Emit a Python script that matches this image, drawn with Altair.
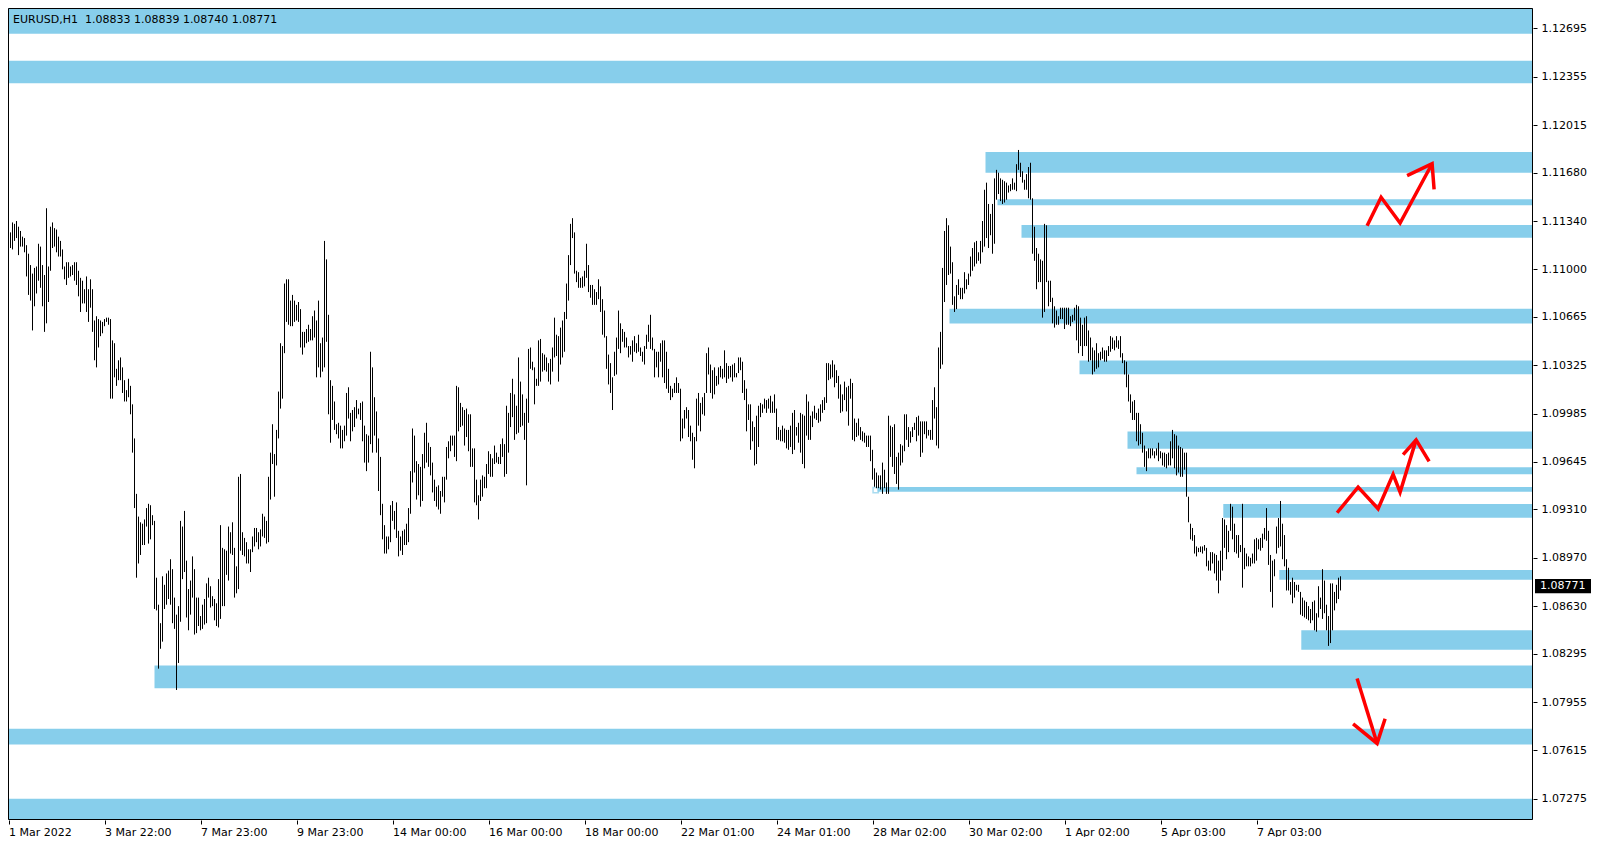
import altair as alt
import pandas as pd

# ---------------- data (EURUSD H1, one value per bar) ----------------
HIGH_1 = [1.1137,1.1126,1.1133,1.1132,1.1134,1.1130,1.1127,1.1123,1.1122,1.1117,
          1.1111,1.1103,1.1097,1.1101,1.1102,1.1118,1.1116,1.1103,1.1096,1.1143,
          1.1102,1.1130,1.1133,1.1129,1.1128,1.1123,1.1120,1.1114,1.1102,1.1105,
          1.1105,1.1102,1.1103,1.1105,1.1105,1.1099,1.1094,1.1092,1.1086,1.1095,
          1.1086,1.1093,1.1086,1.1064,1.1067,1.1065,1.1064,1.1063,1.1065,1.1066,
          1.1066,1.1065,1.1050,1.1048,1.1030,1.1036,1.1038,1.1031,1.1022,1.1015,
          1.1023,1.1018,1.1005,1.0981,1.0942,1.0926,1.0922,1.0921,1.0924,1.0932,
          1.0935,1.0934,1.0927,1.0923,1.0883,1.0864,1.0851,1.0884,1.0878,1.0886,
          1.0888,1.0896,1.0889,1.0869,1.0857,1.0863,1.0923,1.0919,1.0930,1.0895,
          1.0875,1.0881,1.0898,1.0889,1.0869,1.0869,1.0856,1.0864,1.0868,1.0879,
          1.0883,1.0877,1.0870,1.0868,1.0865,1.0882,1.0920,1.0904,1.0903,1.0902,
          1.0919,1.0915,1.0922,1.0904,1.0891,1.0954,1.0956,1.0915,1.0911,1.0908,
          1.0903,1.0903,1.0912,1.0918,1.0918,1.0915,1.0917,1.0928,1.0926,1.0923,
          1.0954,1.0971,1.0991,1.0970]
LOW_1 = [1.1122,1.1115,1.1114,1.1120,1.1122,1.1110,1.1116,1.1116,1.1112,1.1095,
         1.1082,1.1078,1.1057,1.1074,1.1083,1.1092,1.1087,1.1074,1.1056,1.1062,
         1.1077,1.1099,1.1115,1.1116,1.1112,1.1109,1.1109,1.1100,1.1093,1.1089,
         1.1094,1.1095,1.1096,1.1092,1.1089,1.1081,1.1070,1.1076,1.1076,1.1070,
         1.1063,1.1073,1.1056,1.1036,1.1031,1.1045,1.1053,1.1055,1.1060,1.1063,
         1.1061,1.1009,1.1009,1.1024,1.1018,1.1022,1.1022,1.1013,1.1007,1.1007,
         1.1010,1.0998,1.0971,1.0932,1.0883,1.0893,1.0899,1.0906,1.0906,1.0919,
         1.0907,1.0910,1.0920,1.0861,1.0860,1.0819,1.0833,1.0838,1.0861,1.0864,
         1.0868,1.0864,1.0851,1.0847,1.0804,1.0823,1.0852,1.0882,1.0887,1.0855,
         1.0846,1.0857,1.0869,1.0843,1.0844,1.0849,1.0846,1.0847,1.0850,1.0851,
         1.0869,1.0862,1.0863,1.0853,1.0849,1.0848,1.0854,1.0863,1.0863,1.0885,
         1.0881,1.0900,1.0899,1.0869,1.0872,1.0875,1.0902,1.0899,1.0898,1.0893,
         1.0893,1.0887,1.0901,1.0905,1.0908,1.0903,1.0905,1.0912,1.0911,1.0907,
         1.0908,1.0938,1.0963,1.0940]

HIGH_2 = [1.0987,1.1014,1.1048,1.1046,1.1090,1.1093,1.1093,1.1078,1.1082,1.1078,
          1.1075,1.1077,1.1072,1.1056,1.1056,1.1058,1.1061,1.1058,1.1067,1.1071,
          1.1064,1.1078,1.1048,1.1052,1.1120,1.1107,1.1068,1.1022,1.1018,1.1007,
          1.0991,1.0992,1.0990,1.0987,1.0990,1.1013,1.1017,1.0999,1.1001,1.1003,
          1.1008,1.1002,1.1006,1.1007,1.0990,1.0984,1.0983,1.1042,1.1031,1.1010,
          1.1000,1.0981,1.0968,1.0935,1.0920,1.0912,1.0912,1.0934,1.0937,1.0930,
          1.0936,1.0916,1.0912,1.0916,1.0917,1.0921,1.0932,1.0958,1.0988,1.0983,
          1.0965,1.0963,1.0961,1.0970,1.0985,1.0992,1.0978,1.0975,1.0964,1.0952,
          1.0947,1.0948,1.0944,1.0954,1.0954,1.0975,1.0979,1.0983,1.0983,1.0983,
          1.1018,1.1017,1.1006,1.1003,1.1001,1.1002,1.0998,1.0998,1.0974,1.0974,
          1.0952,1.0941,1.0952,1.0955,1.0954,1.0963,1.0972,1.0970,1.0967,1.0976,
          1.0971,1.0968,1.0977,1.0981,1.0977,1.1004,1.0999,1.1013,1.1023,1.1012,
          1.1004,1.1038,1.1021,1.1012,1.0999,1.1009,1.1044,1.1045,1.1035,1.1031,
          1.1023,1.1050]
LOW_2 = [1.0962,1.0981,1.1002,1.1009,1.1041,1.1063,1.1061,1.1060,1.1060,1.1063,
         1.1064,1.1063,1.1045,1.1040,1.1045,1.1048,1.1049,1.1050,1.1050,1.1052,
         1.1024,1.1031,1.1024,1.1028,1.1031,1.1049,1.0998,1.0978,1.0994,1.0987,
         1.0984,1.0981,1.0974,1.0974,1.0979,1.0983,1.0995,1.0979,1.0986,1.0989,
         1.0995,1.0998,1.0994,1.0979,1.0964,1.0958,1.0964,1.0977,1.0971,1.0983,
         1.0971,1.0944,1.0927,1.0910,1.0900,1.0900,1.0903,1.0908,1.0923,1.0917,
         1.0911,1.0898,1.0902,1.0899,1.0906,1.0906,1.0908,1.0928,1.0950,1.0957,
         1.0938,1.0941,1.0933,1.0937,1.0960,1.0964,1.0961,1.0955,1.0943,1.0937,
         1.0933,1.0931,1.0928,1.0940,1.0936,1.0952,1.0967,1.0972,1.0976,1.0968,
         1.0965,1.0986,1.0989,1.0990,1.0976,1.0982,1.0972,1.0961,1.0961,1.0936,
         1.0934,1.0924,1.0937,1.0940,1.0946,1.0946,1.0956,1.0954,1.0954,1.0963,
         1.0964,1.0963,1.0963,1.0968,1.0954,1.0956,1.0971,1.0989,1.0996,1.0980,
         1.0984,1.0985,1.0989,1.0990,1.0980,1.0948,1.0992,1.1030,1.1029,1.1005,
         1.1018,1.1018]

HIGH_3 = [1.1051,1.1041,1.1040,1.1038,1.1034,1.1037,1.1045,1.1066,1.1054,1.1053,
          1.1059,1.1064,1.1070,1.1090,1.1110,1.1132,1.1136,1.1126,1.1099,1.1098,
          1.1094,1.1095,1.1099,1.1118,1.1103,1.1089,1.1089,1.1086,1.1084,1.1093,
          1.1088,1.1079,1.1071,1.1053,1.1040,1.1034,1.1024,1.1042,1.1052,1.1071,
          1.1062,1.1058,1.1056,1.1052,1.1046,1.1046,1.1050,1.1053,1.1048,1.1054,
          1.1045,1.1042,1.1046,1.1054,1.1061,1.1068,1.1052,1.1044,1.1042,1.1042,
          1.1048,1.1050,1.1050,1.1042,1.1030,1.1018,1.1016,1.1020,1.1024,1.1020,
          1.1016,1.0995,1.1001,1.1003,1.1001,1.0990,1.0985,1.0982,1.1009,1.1013,
          1.1006,1.1010,1.1013,1.1041,1.1045,1.1033,1.1029,1.1031,1.1025,1.1031,
          1.1032,1.1030,1.1043,1.1034,1.1032,1.1032,1.1033,1.1034,1.1027,1.1038,
          1.1038,1.1035,1.1022,1.1016,1.1005,1.1005,1.0993,1.0989,1.0997,1.1004,
          1.1006,1.1005,1.1009,1.1008,1.1009,1.1011,1.1007,1.1012,1.1002,1.0989,
          1.0987,1.0990,1.0988,1.0987,1.0987,1.0990,1.0999,1.1001,1.0989,1.0992,
          1.0999,1.0998,1.0997]
LOW_3 = [1.1021,1.1028,1.1029,1.1028,1.1021,1.1019,1.1028,1.1038,1.1039,1.1021,
         1.1033,1.1038,1.1042,1.1065,1.1078,1.1103,1.1122,1.1097,1.1091,1.1087,
         1.1087,1.1087,1.1088,1.1094,1.1084,1.1080,1.1075,1.1075,1.1075,1.1079,
         1.1070,1.1054,1.1052,1.1030,1.1019,1.1013,1.1001,1.1025,1.1026,1.1044,
         1.1041,1.1049,1.1045,1.1045,1.1038,1.1040,1.1035,1.1042,1.1041,1.1042,
         1.1039,1.1035,1.1033,1.1044,1.1049,1.1044,1.1043,1.1024,1.1031,1.1024,
         1.1035,1.1024,1.1020,1.1016,1.1013,1.1008,1.1010,1.1013,1.1013,1.1013,
         1.0979,1.0981,1.0988,1.0995,1.0982,1.0979,1.0966,1.0960,1.0979,1.0990,
         1.0986,1.0998,1.0997,1.1013,1.1026,1.1013,1.1009,1.1012,1.1018,1.1019,
         1.1024,1.1023,1.1024,1.1020,1.1023,1.1024,1.1021,1.1024,1.1024,1.1027,
         1.1029,1.1013,1.1008,1.0986,1.0994,1.0973,1.0979,1.0962,1.0963,1.0975,
         1.0996,1.0999,1.1002,1.0999,1.1002,1.0999,1.0999,1.0999,1.0980,1.0980,
         1.0979,1.0979,1.0978,1.0974,1.0973,1.0975,1.0970,1.0973,1.0983,1.0978,
         1.0971,1.0963,1.0960]

HIGH_4 = [1.1012,1.1007,1.0997,1.1000,1.1004,1.0999,1.1002,1.1005,1.1008,1.1010,
          1.1034,1.1034,1.1033,1.1036,1.1033,1.1029,1.1025,1.1019,1.1012,1.1021,
          1.1017,1.1018,1.1023,1.1020,1.0995,1.0992,1.0995,1.0989,1.0986,1.0985,
          1.0983,1.0983,1.0983,1.0973,1.0960,1.0957,1.0955,1.0955,1.0964,1.0959,
          1.0950,1.0997,1.0990,1.0989,1.0991,1.0968,1.0971,1.0977,1.0976,1.0998,
          1.0998,1.0989,1.0986,1.0989,1.0992,1.0996,1.0997,1.0993,1.0993,1.0993,
          1.0993,1.0987,1.0987,1.1008,1.1017,1.1003,1.1045,1.1056,1.1101,1.1127,
          1.1136,1.1131,1.1116,1.1105,1.1081,1.1089,1.1093,1.1087,1.1087,1.1098,
          1.1093,1.1097,1.1109,1.1115,1.1119,1.1120,1.1112,1.1120,1.1134,1.1156,
          1.1161,1.1146,1.1139,1.1146,1.1164,1.1170,1.1168,1.1164,1.1163,1.1162,
          1.1161,1.1159,1.1160,1.1164,1.1161,1.1174,1.1184,1.1175,1.1169,1.1163,
          1.1167,1.1172,1.1175,1.1150,1.1130,1.1115,1.1111,1.1107,1.1106,1.1132,
          1.1131,1.1092,1.1092,1.1080,1.1074,1.1071,1.1067,1.1073,1.1073,1.1073,
          1.1073,1.1073]
LOW_4 = [1.0983,1.0980,1.0980,1.0989,1.0995,1.0994,1.0992,1.0993,1.0999,1.1001,
         1.1006,1.1022,1.1023,1.1024,1.1017,1.1020,1.1009,1.0999,1.1000,1.1008,
         1.1000,1.0990,1.1009,1.0980,1.0979,1.0982,1.0983,1.0980,1.0979,1.0978,
         1.0975,1.0975,1.0965,1.0952,1.0947,1.0946,1.0946,1.0945,1.0942,1.0946,
         1.0942,1.0942,1.0968,1.0961,1.0956,1.0949,1.0945,1.0962,1.0964,1.0972,
         1.0980,1.0975,1.0978,1.0982,1.0987,1.0979,1.0983,1.0968,1.0971,1.0984,
         1.0981,1.0983,1.0980,1.0980,1.0995,1.0976,1.0974,1.1030,1.1033,1.1077,
         1.1089,1.1096,1.1097,1.1075,1.1070,1.1072,1.1082,1.1079,1.1079,1.1083,
         1.1086,1.1089,1.1095,1.1099,1.1102,1.1104,1.1106,1.1104,1.1112,1.1116,
         1.1122,1.1115,1.1124,1.1111,1.1118,1.1149,1.1153,1.1148,1.1146,1.1147,
         1.1149,1.1154,1.1155,1.1156,1.1156,1.1155,1.1170,1.1165,1.1161,1.1156,
         1.1156,1.1150,1.1149,1.1111,1.1106,1.1086,1.1091,1.1091,1.1066,1.1070,
         1.1091,1.1074,1.1077,1.1062,1.1059,1.1061,1.1061,1.1065,1.1065,1.1058,
         1.1061,1.1061]

HIGH_5 = [1.1067,1.1068,1.1073,1.1075,1.1074,1.1066,1.1061,1.1066,1.1067,1.1057,
          1.1052,1.1045,1.1043,1.1048,1.1041,1.1042,1.1045,1.1043,1.1043,1.1046,
          1.1053,1.1052,1.1050,1.1053,1.1050,1.1053,1.1041,1.1036,1.1035,1.1026,
          1.1012,1.1007,1.1008,1.0999,1.0999,1.0991,1.0985,1.0976,1.0972,1.0974,
          1.0974,1.0974,1.0972,1.0974,1.0978,1.0972,1.0971,1.0971,1.0970,1.0971,
          1.0979,1.0987,1.0984,1.0983,1.0976,1.0975,1.0974,1.0971,1.0971,1.0940,
          1.0921,1.0918,1.0913,1.0905,1.0904,1.0905,1.0905,1.0906,1.0904,1.0895,
          1.0901,1.0901,1.0900,1.0899,1.0895,1.0902,1.0925,1.0924,1.0920,1.0916,
          1.0935,1.0933,1.0921,1.0913,1.0913,1.0906,1.0935,1.0904,1.0900,1.0898,
          1.0897,1.0900,1.0910,1.0911,1.0910,1.0911,1.0914,1.0918,1.0932,1.0916,
          1.0899,1.0895,1.0896,1.0919,1.0925,1.0937,1.0921,1.0913,1.0896,1.0890,
          1.0880,1.0883,1.0880,1.0878,1.0878,1.0873,1.0869,1.0867,1.0866,1.0863,
          1.0861,1.0866,1.0867,1.0858,1.0877,1.0869,1.0889,1.0881,1.0864,1.0856,
          1.0879,1.0879,1.0873,1.0878,1.0883,1.0884]
LOW_5 = [1.1060,1.1063,1.1064,1.1050,1.1041,1.1046,1.1039,1.1046,1.1046,1.1035,
         1.1036,1.1026,1.1028,1.1030,1.1031,1.1036,1.1037,1.1035,1.1035,1.1039,
         1.1042,1.1044,1.1043,1.1045,1.1044,1.1038,1.1034,1.1026,1.1017,1.1007,
         1.0999,1.0994,1.0994,1.0979,1.0976,1.0977,1.0971,1.0961,1.0958,1.0967,
         1.0967,1.0969,1.0967,1.0969,1.0965,1.0967,1.0962,1.0961,1.0960,1.0962,
         1.0962,1.0967,1.0960,1.0955,1.0957,1.0954,1.0954,1.0959,1.0940,1.0922,
         1.0910,1.0909,1.0900,1.0898,1.0901,1.0901,1.0900,1.0902,1.0891,1.0888,
         1.0888,1.0893,1.0886,1.0881,1.0872,1.0881,1.0888,1.0904,1.0896,1.0901,
         1.0916,1.0910,1.0901,1.0900,1.0897,1.0901,1.0876,1.0889,1.0891,1.0891,
         1.0891,1.0893,1.0893,1.0895,1.0903,1.0902,1.0904,1.0910,1.0909,1.0892,
         1.0873,1.0862,1.0884,1.0900,1.0904,1.0905,1.0896,1.0891,1.0874,1.0874,
         1.0871,1.0865,1.0869,1.0874,1.0873,1.0857,1.0856,1.0855,1.0854,1.0853,
         1.0851,1.0853,1.0846,1.0845,1.0855,1.0861,1.0854,1.0858,1.0846,1.0835,
         1.0837,1.0846,1.0860,1.0865,1.0868,1.0874]

# x-axis: one label every 48 bars
TICK_LABELS = ["1 Mar 2022", "3 Mar 22:00", "7 Mar 23:00", "9 Mar 23:00", "14 Mar 00:00",
               "16 Mar 00:00", "18 Mar 00:00", "22 Mar 01:00", "24 Mar 01:00", "28 Mar 02:00",
               "30 Mar 02:00", "1 Apr 02:00", "5 Apr 03:00", "7 Apr 03:00"]
BARS_PER_LABEL = 48

Y_TICKS = [1.12695, 1.12355, 1.12015, 1.11680, 1.11340, 1.11000, 1.10665, 1.10325, 1.09985,
           1.09645, 1.09310, 1.08970, 1.08630, 1.08295, 1.07955, 1.07615, 1.07275]

X_MIN, X_MAX = -0.25, 762.25
Y_MIN, Y_MAX = 1.07125, 1.12839

# supply / demand zones: start bar, top price, bottom price (all extend to the right edge)
ZONE_START = [X_MIN, X_MIN, 488.5, 494.5, 506.5, 470.5, 535.5, 559.5, 564.0, 434.5,
              607.4, 635.4, 646.4, 73.0, X_MIN, X_MIN]
ZONE_TOP = [1.1295, 1.12467, 1.11826, 1.11493, 1.11312, 1.10723, 1.10359, 1.09858, 1.09607,
            1.09468, 1.09349, 1.08885, 1.08461, 1.08212, 1.07768, 1.07275]
ZONE_BOTTOM = [1.12658, 1.12309, 1.11680, 1.11451, 1.11222, 1.10619, 1.10262, 1.09738, 1.09558,
               1.09435, 1.09252, 1.08815, 1.08323, 1.08052, 1.07657, 1.0700]

MARKER_BAR, MARKER_PRICE = 433.6, 1.09447

# red hand-drawn arrows (bar index, price)
ARROW_A_X = [679.3, 686.3, 695.8, 711.8]
ARROW_A_P = [1.11306, 1.11507, 1.11326, 1.11743]
ARROW_A_HEAD_X = [699.3, 711.8, 712.8]
ARROW_A_HEAD_P = [1.11659, 1.11743, 1.11562]
ARROW_B_X = [664.3, 674.8, 684.8, 692.3, 695.8, 703.8]
ARROW_B_P = [1.09287, 1.09467, 1.09315, 1.09557, 1.09432, 1.09800]
ARROW_B_HEAD_X = [697.3, 703.8, 710.3]
ARROW_B_HEAD_P = [1.09696, 1.09800, 1.09648]
ARROW_C_X = [674.3, 684.3]
ARROW_C_P = [1.08121, 1.07664]
ARROW_C_HEAD_X = [672.3, 684.3, 688.3]
ARROW_C_HEAD_P = [1.07802, 1.07664, 1.07837]

SYMBOL = "EURUSD,H1"
HEADER_OHLC = ["1.08833", "1.08839", "1.08740", "1.08771"]
LAST_PRICE = 1.08771

# ---------------- build tables ----------------
HIGHS = HIGH_1 + HIGH_2 + HIGH_3 + HIGH_4 + HIGH_5
LOWS = LOW_1 + LOW_2 + LOW_3 + LOW_4 + LOW_5
for h, l in [(HIGH_1, LOW_1), (HIGH_2, LOW_2), (HIGH_3, LOW_3), (HIGH_4, LOW_4), (HIGH_5, LOW_5)]:
    assert len(h) == len(l), (len(h), len(l))

bars = pd.DataFrame({"i": list(range(len(HIGHS))), "high": HIGHS, "low": LOWS})
zones = pd.DataFrame({"x0": ZONE_START, "x1": [X_MAX] * len(ZONE_START),
                      "top": ZONE_TOP, "bottom": ZONE_BOTTOM})

arrow_rows = []
for name, xs_, ps in [("A", ARROW_A_X, ARROW_A_P), ("AH", ARROW_A_HEAD_X, ARROW_A_HEAD_P),
                      ("B", ARROW_B_X, ARROW_B_P), ("BH", ARROW_B_HEAD_X, ARROW_B_HEAD_P),
                      ("C", ARROW_C_X, ARROW_C_P), ("CH", ARROW_C_HEAD_X, ARROW_C_HEAD_P)]:
    for k, (x, p) in enumerate(zip(xs_, ps)):
        arrow_rows.append({"seg": name, "k": k, "x": x, "p": p})
arrows = pd.DataFrame(arrow_rows)

W, H = 1525, 812
FONT = "DejaVu Sans"

label_expr = "[" + ",".join("'%s'" % s for s in TICK_LABELS) + "][round(datum.value / %d)]" % BARS_PER_LABEL
x_axis = alt.Axis(values=[k * BARS_PER_LABEL for k in range(len(TICK_LABELS))], labelExpr=label_expr,
                  title=None, grid=False, domain=False, tickSize=4, tickColor="black",
                  labelAlign="left", labelFlush=False, labelOverlap=False, labelPadding=2,
                  labelFont=FONT, labelFontSize=11, labelColor="black")
y_axis = alt.Axis(orient="right", values=Y_TICKS, format=".5f", title=None, grid=False, domain=False,
                  tickSize=4, tickColor="black", labelPadding=4,
                  labelFont=FONT, labelFontSize=11, labelColor="black",
                  labelOverlap=False, labelFlush=False)
xs = alt.Scale(domain=[X_MIN, X_MAX], nice=False, zero=False)
ys = alt.Scale(domain=[Y_MIN, Y_MAX], nice=False, zero=False)


def X(field):
    return alt.X(field, type="quantitative", scale=xs, axis=x_axis)


def Y(field):
    return alt.Y(field, type="quantitative", scale=ys, axis=y_axis)


zone_layer = alt.Chart(zones).mark_rect(color="#87CEEB", clip=True).encode(
    x=X("x0"), x2="x1", y=Y("top"), y2="bottom")

marker = alt.Chart(pd.DataFrame({"x": [MARKER_BAR], "p": [MARKER_PRICE]})).mark_square(
    size=28, filled=False, color="#87CEEB", strokeWidth=1.5).encode(x=X("x"), y=Y("p"))

bar_layer = alt.Chart(bars).mark_rule(color="black", strokeWidth=1).encode(
    x=X("i"), y=Y("high"), y2="low")

arrow_layer = alt.Chart(arrows).mark_line(color="#FF0000", strokeWidth=3.5, strokeJoin="miter",
                                          strokeCap="butt").encode(
    x=X("x"), y=Y("p"), detail="seg:N", order="k:Q")

header = alt.Chart(pd.DataFrame({"t": [SYMBOL + "\u00a0 " + " ".join(HEADER_OHLC)]})).mark_text(
    align="left", baseline="middle", font=FONT, fontSize=11, color="black").encode(
    x=alt.value(5), y=alt.value(12), text="t:N")

frame = alt.Chart(pd.DataFrame({"k": [0]})).mark_rect(
    fillOpacity=0, stroke="black", strokeWidth=1).encode(
    x=alt.value(0.5), x2=alt.value(W - 0.5), y=alt.value(0.5), y2=alt.value(H - 0.5))

price_df = pd.DataFrame({"p": [LAST_PRICE], "t": ["%.5f" % LAST_PRICE]})
price_box = alt.Chart(price_df).mark_point(
    shape="M-1,-0.2545L1,-0.2545L1,0.2545L-1,0.2545Z", filled=True, size=3136,
    color="black", opacity=1).encode(x=alt.value(W + 30), y=Y("p"))
price_text = alt.Chart(price_df).mark_text(
    align="left", baseline="middle", font=FONT, fontSize=11, color="white").encode(
    x=alt.value(W + 7), y=Y("p"), text="t:N")

chart = alt.layer(zone_layer, marker, bar_layer, arrow_layer, header, frame,
                  price_box, price_text).properties(
    width=W, height=H, padding=0
).configure_view(strokeWidth=0)

chart.save("out.html", embed_options={"renderer": "svg", "actions": False})
